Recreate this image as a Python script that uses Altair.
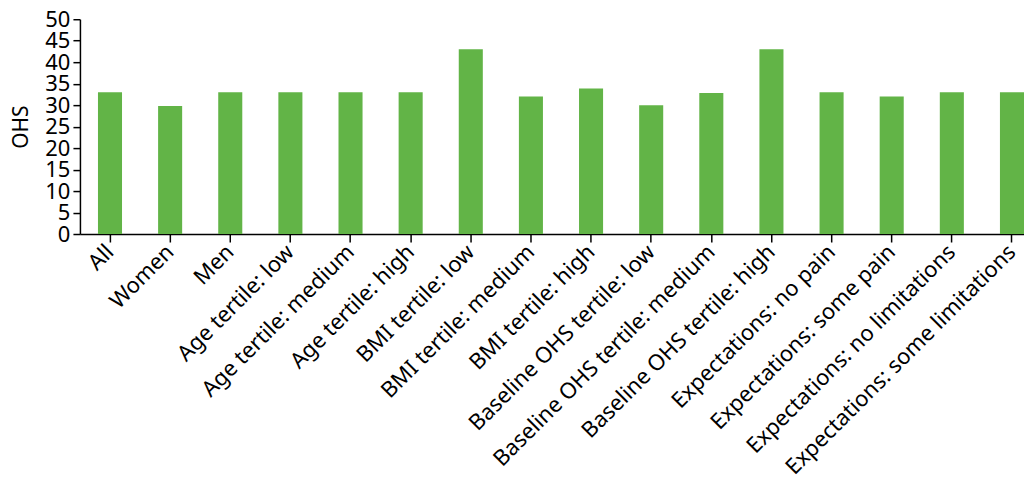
import altair as alt
import pandas as pd

categories = ["All", "Women", "Men", "Age tertile: low", "Age tertile: medium", "Age tertile: high",
              "BMI tertile: low", "BMI tertile: medium", "BMI tertile: high",
              "Baseline OHS tertile: low", "Baseline OHS tertile: medium", "Baseline OHS tertile: high",
              "Expectations: no pain", "Expectations: some pain", "Expectations: no limitations",
              "Expectations: some limitations"]
values = [33, 29.8, 33, 33, 33, 33, 43, 32, 33.9, 30, 32.8, 43, 33, 32, 33, 33]

df = pd.DataFrame({"group": categories, "OHS": values})

FONT = "Noto Sans"

chart = alt.Chart(df).mark_bar(color="#62b447").encode(
    x=alt.X("group:N", sort=categories, title=None,
            scale=alt.Scale(paddingInner=0.6, paddingOuter=0.15, align=1),
            axis=alt.Axis(labelAngle=-45, labelAlign="right", labelBaseline="middle",
                          labelFontSize=22, labelFont=FONT, labelColor="black", labelLimit=500,
                          labelOverlap=False,
                          domainColor="black", tickColor="black", tickSize=8,
                          domainWidth=1.5, tickWidth=1.5, labelPadding=6)),
    y=alt.Y("OHS:Q", title="OHS",
            scale=alt.Scale(domain=[0, 50]),
            axis=alt.Axis(values=list(range(0, 51, 5)), grid=False, labelOverlap=False,
                          labelFontSize=22, labelFont=FONT, labelColor="black",
                          titleFontSize=21, titleFont=FONT, titleFontWeight="normal",
                          titleColor="black", titlePadding=13,
                          domainColor="black", tickColor="black", tickSize=7,
                          domainWidth=1.5, tickWidth=1.5, labelPadding=3)),
).properties(width=945, height=215, padding={"left": 2, "top": 0, "right": 0, "bottom": 0}
).configure_view(stroke=None)

chart.save("out.html", embed_options={"renderer": "svg", "actions": False})
